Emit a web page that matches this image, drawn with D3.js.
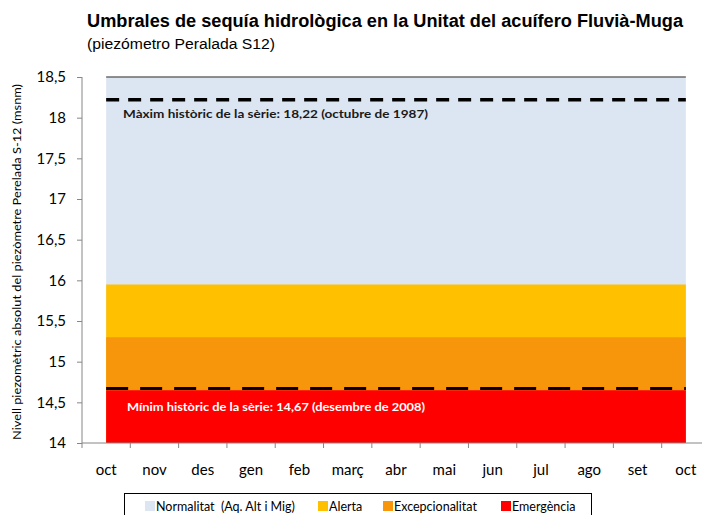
<!DOCTYPE html>
<html>
<head>
<meta charset="utf-8">
<script src="https://cdn.jsdelivr.net/npm/d3@7"></script>
<style>
  body { margin: 0; background: #fff; }
  svg { display: block; }
</style>
</head>
<body>
<div id="chart"></div>
<script>
// months of the hydrological year (oct -> oct)
const months = ['oct', 'nov', 'des', 'gen', 'feb', 'març', 'abr', 'mai', 'jun', 'jul', 'ago', 'set', 'oct '];

// upper limit of each band, per month (msnm)
const emergencia      = [14.65, 14.65, 14.65, 14.65, 14.65, 14.65, 14.65, 14.65, 14.65, 14.65, 14.65, 14.65, 14.65];
const excepcionalitat = [15.3, 15.3, 15.3, 15.3, 15.3, 15.3, 15.3, 15.3, 15.3, 15.3, 15.3, 15.3, 15.3];
const alerta          = [15.95, 15.95, 15.95, 15.95, 15.95, 15.95, 15.95, 15.95, 15.95, 15.95, 15.95, 15.95, 15.95];
const normalitat      = [18.5, 18.5, 18.5, 18.5, 18.5, 18.5, 18.5, 18.5, 18.5, 18.5, 18.5, 18.5, 18.5];

const maxHistoric = 18.22;
const minHistoric = 14.67;

const yTicks = [14, 14.5, 15, 15.5, 16, 16.5, 17, 17.5, 18, 18.5];

const bands = [
  {key: 'Normalitat  (Aq. Alt i Mig)', values: normalitat, color: '#dce6f2'},
  {key: 'Alerta', values: alerta, color: '#ffc000'},
  {key: 'Excepcionalitat', values: excepcionalitat, color: '#f7960a'},
  {key: 'Emergència', values: emergencia, color: '#ff0000'}
];

const width = 702;
const height = 515;
const margin = {top: 77, right: -8, bottom: 72, left: 82};
const calibri = 'Lato, "Open Sans", sans-serif';

const svg = d3.select('#chart')
  .append('svg')
    .attr('width', width)
    .attr('height', height);

const x = d3.scaleBand()
    .domain(months)
    .range([margin.left, width - margin.right])
    .padding(0);

const y = d3.scaleLinear()
    .domain([14, 18.5])
    .range([height - margin.bottom, margin.top]);

const cx = d => x(d) + x.bandwidth() / 2;

// bands, drawn from the top one down so the lower ones sit on top
const area = d3.area()
    .x((d, i) => cx(months[i]))
    .y0(y(14))
    .y1(d => y(d));

svg.append('g')
  .selectAll('path')
  .data(bands)
  .join('path')
    .attr('d', d => area(d.values))
    .attr('fill', d => d.color);

// top edge of the normalitat band
svg.append('path')
    .attr('d', d3.line().x((d, i) => cx(months[i])).y(d => y(d))(normalitat))
    .attr('fill', 'none')
    .attr('stroke', '#6b6b6b')
    .attr('stroke-width', 1.5);

// historic max / min
const first = cx(months[0]);
const last = cx(months[months.length - 1]);

svg.append('line')
    .attr('x1', first).attr('x2', last)
    .attr('y1', y(maxHistoric)).attr('y2', y(maxHistoric))
    .attr('stroke', '#000')
    .attr('stroke-width', 3.3)
    .attr('stroke-dasharray', '13,9');

svg.append('line')
    .attr('x1', first).attr('x2', last)
    .attr('y1', y(minHistoric)).attr('y2', y(minHistoric))
    .attr('stroke', '#000')
    .attr('stroke-width', 3)
    .attr('stroke-dasharray', '22,12');

svg.append('text')
    .attr('x', 123)
    .attr('y', y(maxHistoric) + 18)
    .attr('font-family', calibri)
    .attr('font-weight', 'bold')
    .attr('font-size', 11.5)
    .attr('fill', '#1a1a1a')
    .attr('textLength', 305)
    .attr('lengthAdjust', 'spacingAndGlyphs')
    .text('Màxim històric de la sèrie: 18,22 (octubre de 1987)');

svg.append('text')
    .attr('x', 127)
    .attr('y', y(minHistoric) + 22)
    .attr('font-family', calibri)
    .attr('font-weight', 'bold')
    .attr('font-size', 11.5)
    .attr('fill', '#fff')
    .attr('textLength', 298)
    .attr('lengthAdjust', 'spacingAndGlyphs')
    .text('Mínim històric de la sèrie: 14,67 (desembre de 2008)');

// axes
const yAxis = svg.append('g')
    .attr('transform', `translate(${margin.left},0)`)
    .call(d3.axisLeft(y)
      .tickValues(yTicks)
      .tickSize(5)
      .tickPadding(11)
      .tickFormat(d => d3.format('.1~f')(d).replace('.', ',')));

const xAxis = svg.append('g')
    .attr('transform', `translate(0,${y(14)})`)
    .call(d3.axisBottom(x)
      .tickSize(0)
      .tickPadding(21));

// category ticks sit between the months
xAxis.selectAll('.sep')
  .data(months)
  .join('line')
    .attr('class', 'sep')
    .attr('x1', d => x(d)).attr('x2', d => x(d))
    .attr('y1', 0).attr('y2', 5);

[yAxis, xAxis].forEach(a => {
  a.select('.domain').attr('stroke', '#868686').attr('stroke-width', 1);
  a.selectAll('line').attr('stroke', '#868686');
  a.selectAll('text')
      .attr('font-family', calibri)
      .attr('font-size', 15)
      .attr('fill', '#000');
});
yAxis.select('.domain').attr('d', `M0,${y(18.5)}V${y(14)}`);
xAxis.select('.domain').attr('d', `M${margin.left},0H${width}`);

// y axis title
svg.append('text')
    .attr('transform', `translate(21,${(y(14) + y(18.5)) / 2 + 2}) rotate(-90)`)
    .attr('text-anchor', 'middle')
    .attr('font-family', calibri)
    .attr('font-size', 11)
    .attr('fill', '#000')
    .attr('textLength', 356)
    .attr('lengthAdjust', 'spacingAndGlyphs')
    .text('Nivell piezomètric absolut del piezòmetre Perelada S-12 (msnm)');

// titles
svg.append('text')
    .attr('x', 87)
    .attr('y', 27)
    .attr('font-family', '"Liberation Sans", Arial, sans-serif')
    .attr('font-weight', 'bold')
    .attr('font-size', 18)
    .attr('fill', '#000')
    .attr('textLength', 596)
    .attr('lengthAdjust', 'spacingAndGlyphs')
    .text('Umbrales de sequía hidrològica en la Unitat del acuífero Fluvià-Muga');

svg.append('text')
    .attr('x', 87)
    .attr('y', 49)
    .attr('font-family', '"Liberation Sans", Arial, sans-serif')
    .attr('font-size', 15.5)
    .attr('fill', '#000')
    .attr('textLength', 188)
    .attr('lengthAdjust', 'spacingAndGlyphs')
    .text('(piezómetro Peralada S12)');

// legend
const legend = svg.append('g');

legend.append('rect')
    .attr('x', 124.5)
    .attr('y', 493.5)
    .attr('width', 467)
    .attr('height', 30)
    .attr('fill', '#fff')
    .attr('stroke', '#000')
    .attr('stroke-width', 1);

const legendX = [145, 318, 383, 501];

const item = legend.selectAll('.item')
  .data(bands)
  .join('g')
    .attr('class', 'item')
    .attr('transform', (d, i) => `translate(${legendX[i]},501)`);

item.append('rect')
    .attr('width', 10)
    .attr('height', 10)
    .attr('fill', d => d.color);

item.append('text')
    .attr('x', 11)
    .attr('y', 9.5)
    .attr('font-family', calibri)
    .attr('font-size', 12.5)
    .attr('fill', '#000')
    .style('white-space', 'pre')
    .text(d => d.key);
</script>
</body>
</html>
